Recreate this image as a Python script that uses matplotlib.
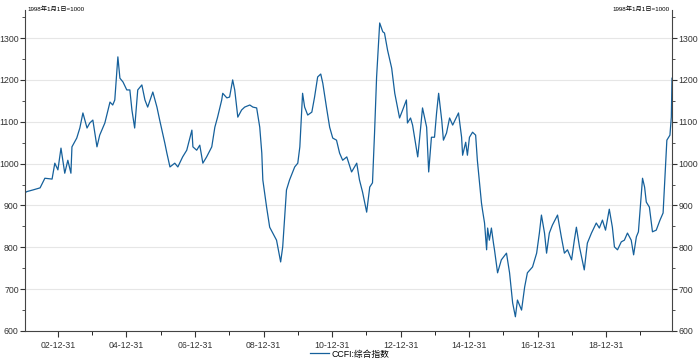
import matplotlib
matplotlib.use("Agg")
import matplotlib.pyplot as plt
from matplotlib.ticker import FixedLocator, MultipleLocator

plt.rcParams['font.family'] = ['Liberation Sans', 'Noto Sans CJK SC', 'DejaVu Sans']

# CCFI 综合指数, 按小数年份读取
years = [
    2002.04, 2002.09, 2002.27, 2002.48, 2002.62, 2002.83, 2002.91, 2003.00, 2003.09, 2003.20,
    2003.29, 2003.38, 2003.41, 2003.55, 2003.64, 2003.73, 2003.85, 2003.93, 2004.02, 2004.14,
    2004.22, 2004.37, 2004.52, 2004.60, 2004.66, 2004.75, 2004.81, 2004.90, 2005.01, 2005.10,
    2005.16, 2005.24, 2005.33, 2005.45, 2005.54, 2005.62, 2005.77, 2005.89, 2005.97, 2006.12,
    2006.18, 2006.27, 2006.41, 2006.50, 2006.64, 2006.76,
    2006.91, 2006.94, 2007.05, 2007.14, 2007.23, 2007.34, 2007.49, 2007.58, 2007.66, 2007.78,
    2007.81, 2007.93, 2008.01, 2008.10, 2008.16, 2008.25, 2008.36, 2008.45, 2008.60, 2008.69,
    2008.80, 2008.89, 2008.95, 2008.98, 2009.09, 2009.18, 2009.27, 2009.38, 2009.50, 2009.56,
    2009.67, 2009.76, 2009.91, 2010.00, 2010.06, 2010.11, 2010.14, 2010.20, 2010.29, 2010.41,
    2010.49, 2010.58, 2010.67, 2010.73, 2010.84, 2010.93, 2011.02, 2011.13,
    2011.22, 2011.31, 2011.43, 2011.57, 2011.72, 2011.80, 2011.89, 2012.01, 2012.10, 2012.18,
    2012.24, 2012.30, 2012.39, 2012.48, 2012.53, 2012.62, 2012.74, 2012.83, 2012.97, 2013.06,
    2013.17, 2013.20, 2013.29, 2013.35, 2013.50, 2013.55, 2013.64, 2013.76, 2013.82, 2013.90,
    2013.99, 2014.05, 2014.11, 2014.20, 2014.25, 2014.34, 2014.43, 2014.52, 2014.63, 2014.69,
    2014.78, 2014.81, 2014.90, 2014.95, 2015.01, 2015.10, 2015.19, 2015.24, 2015.36, 2015.39,
    2015.45, 2015.51, 2015.54, 2015.59, 2015.65, 2015.71,
    2015.74, 2015.83, 2015.94, 2016.09, 2016.18, 2016.27, 2016.35, 2016.41, 2016.53, 2016.62,
    2016.70, 2016.85, 2016.97, 2017.05, 2017.11, 2017.20, 2017.26, 2017.34, 2017.43, 2017.58,
    2017.69, 2017.78, 2017.87, 2017.99, 2018.07, 2018.13, 2018.22, 2018.36, 2018.45, 2018.57,
    2018.71, 2018.80, 2018.89, 2018.98, 2019.09, 2019.18, 2019.24, 2019.33, 2019.44, 2019.53,
    2019.62, 2019.73, 2019.80, 2019.88, 2019.94, 2020.06, 2020.12, 2020.17, 2020.26, 2020.35,
    2020.46, 2020.57, 2020.66, 2020.71, 2020.77, 2020.86, 2020.90, 2020.92,
]
ccfi = [
    930, 933, 937, 942, 965, 963, 1001, 985, 1037, 977,
    1008, 977, 1040, 1061, 1085, 1121, 1085, 1097, 1104, 1040,
    1068, 1097, 1147, 1140, 1152, 1255, 1204, 1195, 1176, 1176,
    1128, 1085, 1176, 1188, 1152, 1135, 1171, 1135, 1104, 1049,
    1025, 992, 1001, 992, 1016, 1032,
    1080, 1040, 1032, 1044, 1001, 1016, 1040, 1087, 1111, 1152,
    1168, 1157, 1159, 1200, 1176, 1111, 1128, 1135, 1140, 1135,
    1133, 1087, 1025, 961, 896, 848, 834, 817, 765, 801,
    937, 961, 992, 1001, 1040, 1121, 1168, 1135, 1116, 1123,
    1159, 1207, 1214, 1192, 1133, 1087, 1061, 1056,
    1025, 1008, 1016, 980, 1001, 961, 932, 884, 944, 954,
    1073, 1207, 1336, 1315, 1312, 1271, 1228, 1168, 1109, 1128,
    1152, 1097, 1109, 1092, 1016, 1056, 1133, 1087, 980, 1063,
    1063, 1121, 1168, 1104, 1056, 1073, 1109, 1092, 1111, 1121,
    1063, 1020, 1051, 1020, 1063, 1075, 1068, 1008, 906, 889,
    858, 794, 846, 817, 846, 810,
    794, 739, 770, 786, 739, 667, 634, 674, 650, 705,
    739, 753, 786, 834, 877, 834, 786, 834, 853, 877,
    825, 786, 794, 770, 817, 848, 801, 746, 810, 834,
    858, 846, 865, 841, 891, 848, 801, 794, 813, 817,
    834, 817, 782, 825, 837, 965, 944, 908, 896, 837,
    841, 865, 882, 961, 1056, 1068, 1111, 1204,
]

major_years = [2003, 2005, 2007, 2009, 2011, 2013, 2015, 2017, 2019]
major_labels = ["02-12-31", "04-12-31", "06-12-31", "08-12-31", "10-12-31",
                "12-12-31", "14-12-31", "16-12-31", "18-12-31"]
minor_years = [2004, 2006, 2008, 2010, 2012, 2014, 2016, 2018, 2020]
y_ticks = [600, 700, 800, 900, 1000, 1100, 1200, 1300]

fig = plt.figure(figsize=(7, 3.61), dpi=100)
ax = fig.add_axes([25 / 700, 1 - 331 / 361, 647 / 700, 321 / 361])

ax.plot(years, ccfi, color="#15609b", linewidth=0.9, label="CCFI:综合指数")

ax.set_xlim(2002.04, 2020.92)
ax.set_ylim(600, 1367)
ax.xaxis.set_major_locator(FixedLocator(major_years))
ax.set_xticklabels(major_labels)
ax.xaxis.set_minor_locator(FixedLocator(minor_years))
ax.yaxis.set_major_locator(FixedLocator(y_ticks))
ax.yaxis.set_minor_locator(MultipleLocator(50))

ax.grid(axis="y", color="#e6e6e6", linewidth=0.8)
ax.set_axisbelow(True)
for s in ("left", "right", "bottom"):
    ax.spines[s].set_color("#444444")
    ax.spines[s].set_linewidth(0.8)
ax.spines["top"].set_visible(False)

ax.tick_params(axis="y", which="both", left=True, right=True, labelright=True,
               labelsize=6.3, colors="#333333", direction="out", pad=1)
ax.tick_params(axis="y", which="major", length=3.5)
ax.tick_params(axis="y", which="minor", length=2)
ax.tick_params(axis="x", which="major", length=4, labelsize=6.3, colors="#333333")
ax.tick_params(axis="x", which="minor", length=3)

fig.text(27 / 700, 1 - 9 / 361, "1998年1月1日=1000", fontsize=4.5, va="center", ha="left")
fig.text(670 / 700, 1 - 9 / 361, "1998年1月1日=1000", fontsize=4.5, va="center", ha="right")

fig.legend(loc="center", bbox_to_anchor=(0.5, 1 - 354 / 361), frameon=False,
           fontsize=6.3, handlelength=2.2, handletextpad=0.3)

fig.savefig("out.png", dpi=100)
